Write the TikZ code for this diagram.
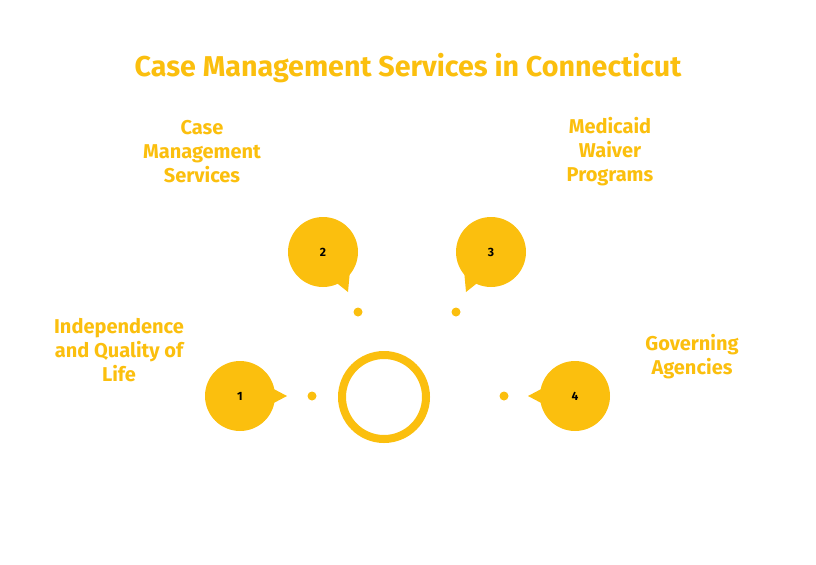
\documentclass[tikz,border=0pt]{standalone}
\usepackage{fontspec}
\setmainfont{Fira Sans}
\usepackage{xcolor}
\definecolor{CaseYellow}{HTML}{FBBF0E}
\tikzset{
  bubble/.style={circle, fill=CaseYellow, minimum size=70*0.75pt, inner sep=0pt, font=\bfseries\small},
  dot/.style={circle, fill=CaseYellow, minimum size=9*0.75pt, inner sep=0pt},
  label/.style={text=CaseYellow, font=\bfseries\fontsize{15}{18}\selectfont, align=center}
}
\begin{document}
\begin{tikzpicture}[x=0.75pt, y=-0.75pt]
\useasboundingbox (0,0) rectangle (816,564);

\node[text=CaseYellow, font=\bfseries\fontsize{21.5}{25}\selectfont] (title) at (408,68) {Case Management Services in Connecticut};

% anillo central
\draw[CaseYellow, line width=8*0.75pt] (384,397) circle (42);

% globos con sus puntas
\fill[CaseYellow] (268,386) -- (287,396) -- (268,406) -- cycle;
\fill[CaseYellow] (333,280) -- (348,292) -- (350,270) -- cycle;
\fill[CaseYellow] (481,280) -- (466,292) -- (464,270) -- cycle;
\fill[CaseYellow] (547,386) -- (528,396) -- (547,406) -- cycle;

\node[bubble] (one) at (240,396) {1};
\node[bubble] (two) at (323,252) {2};
\node[bubble] (three) at (491,252) {3};
\node[bubble] (four) at (575,396) {4};

\node[dot] (d1) at (312,396) {};
\node[dot] (d2) at (358,312) {};
\node[dot] (d3) at (456,312) {};
\node[dot] (d4) at (504,396) {};

\node[label] (lone) at (119,350) {Independence\\and Quality of\\Life};
\node[label] (ltwo) at (202,152) {Case\\Management\\Services};
\node[label] (lthree) at (610,152) {Medicaid\\Waiver\\Programs};
\node[label] (lfour) at (692,357) {Governing\\Agencies};
\end{tikzpicture}
\end{document}
